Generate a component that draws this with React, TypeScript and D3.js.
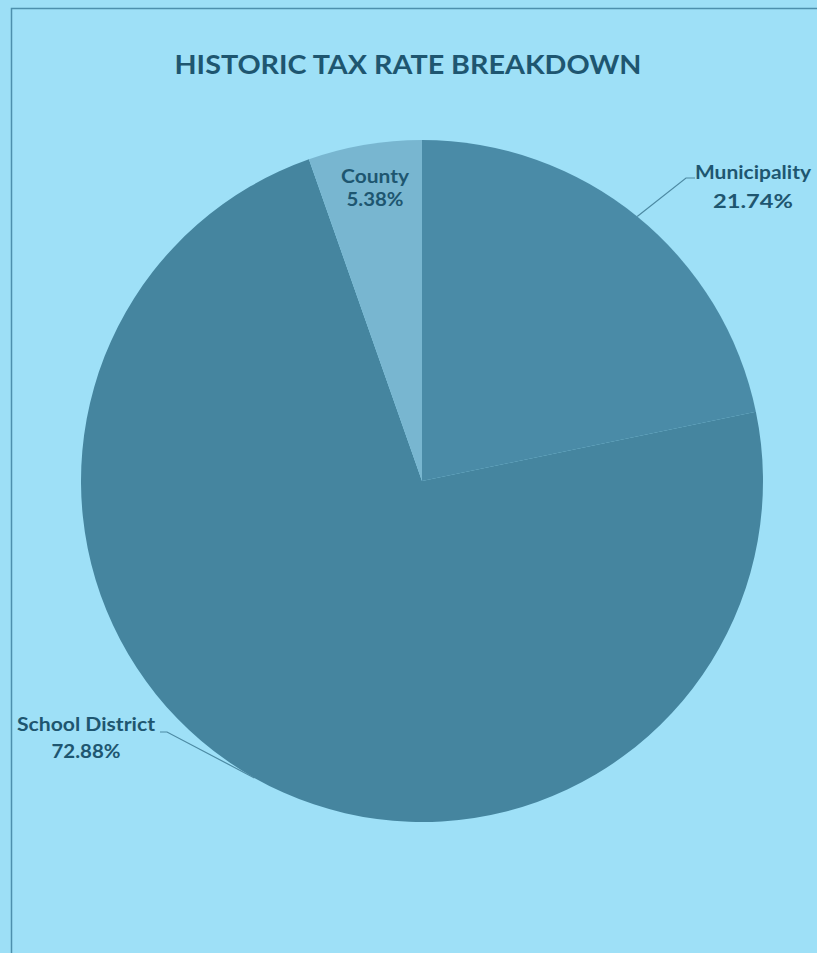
import React from "react";
import * as d3 from "d3";

const categories = ["Municipality", "School District", "County"];
const values = [21.74, 72.88, 5.38];
const labels = ["21.74%", "72.88%", "5.38%"];
const colors = ["#4a8ba7", "#45859f", "#78b6d0"];

const W = 817;
const H = 953;

export default function App() {
  const cx = 422;
  const cy = 481;
  const r = 341;
  const pie = d3
    .pie<number>()
    .sort(null)
    .value((d) => d)
    .startAngle(0)
    .endAngle(2 * Math.PI);
  const arcs = pie(values);
  const arc = d3.arc<d3.PieArcDatum<number>>().innerRadius(0).outerRadius(r);
  const txtColor = "#1e5670";
  const font = "Lato, 'Open Sans', sans-serif";

  // label positions (relative to chart)
  const labelPos = [
    { x: 753, y1: 179, y2: 208, w1: 116, w2: 80, line: [[695, 178], [686, 178]] },
    { x: 86, y1: 731, y2: 758, w1: 138, w2: 69, line: [[160, 732], [167, 732]] },
    { x: 375, y1: 183, y2: 206, w1: 68, w2: 57, line: null },
  ];

  return (
    <svg
      width={W}
      height={H}
      style={{ position: "absolute", left: 0, top: 0, display: "block" }}
    >
      <rect x={0} y={0} width={W} height={H} fill="#9ddff6" />
      <rect
        x={11.5}
        y={8.5}
        width={W + 20}
        height={H + 20}
        fill="#9ee0f7"
        stroke="#4d8fac"
        strokeWidth={1.5}
      />
      <text
        x={408}
        y={74}
        textAnchor="middle"
        fontFamily={font}
        fontWeight="bold"
        fontSize={27}
        fill={txtColor}
        textLength={467}
        lengthAdjust="spacingAndGlyphs"
      >
        HISTORIC TAX RATE BREAKDOWN
      </text>
      <g transform={`translate(${cx},${cy})`}>
        {arcs.map((a, i) => (
          <path key={categories[i]} d={arc(a) || ""} fill={colors[i]} />
        ))}
      </g>
      {arcs.map((a, i) => {
        const p = labelPos[i];
        const mid = (a.startAngle + a.endAngle) / 2;
        const ex = cx + r * Math.sin(mid);
        const ey = cy - r * Math.cos(mid);
        return (
          <g key={"lab" + i}>
            {p.line && (
              <polyline
                points={`${p.line[1][0] === 686 ? 695 : 160},${p.line[0][1]} ${p.line[1][0]},${p.line[1][1]} ${ex},${ey}`}
                fill="none"
                stroke="#4d8aa3"
                strokeWidth={1.2}
              />
            )}
            <text
              x={p.x}
              y={p.y1}
              textAnchor="middle"
              fontFamily={font}
              fontWeight="bold"
              fontSize={19}
              fill={txtColor}
              textLength={p.w1}
              lengthAdjust="spacingAndGlyphs"
            >
              {categories[i]}
            </text>
            <text
              x={p.x}
              y={p.y2}
              textAnchor="middle"
              fontFamily={font}
              fontWeight="bold"
              fontSize={19}
              fill={txtColor}
              textLength={p.w2}
              lengthAdjust="spacingAndGlyphs"
            >
              {labels[i]}
            </text>
          </g>
        );
      })}
    </svg>
  );
}
